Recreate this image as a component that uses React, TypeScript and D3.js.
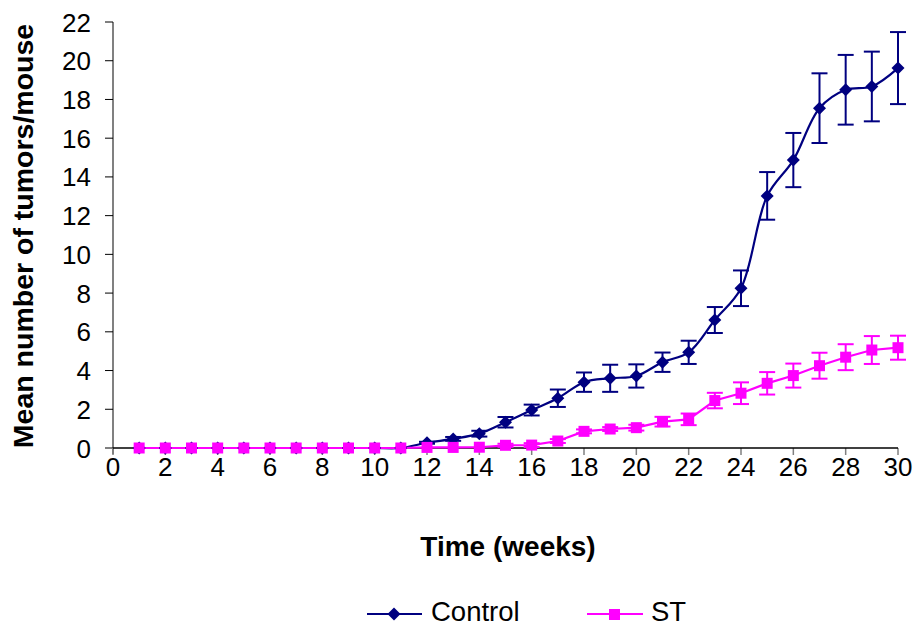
import React from "react";
import * as d3 from "d3";

const weeks = d3.range(1, 31);
const controlMean = [0, 0, 0, 0, 0, 0, 0, 0, 0, 0, 0, 0.27, 0.47, 0.74, 1.33, 1.96, 2.57, 3.4, 3.6, 3.72, 4.43, 4.94, 6.61, 8.25, 13.02, 14.87, 17.55, 18.5, 18.67, 19.62];
const controlErr = [0, 0, 0, 0, 0, 0, 0, 0, 0, 0, 0, 0.05, 0.1, 0.15, 0.27, 0.28, 0.45, 0.5, 0.7, 0.6, 0.5, 0.6, 0.67, 0.92, 1.23, 1.4, 1.8, 1.8, 1.8, 1.86];
const stMean = [0, 0, 0, 0, 0, 0, 0, 0, 0, 0, 0, 0.03, 0.03, 0.04, 0.14, 0.15, 0.36, 0.86, 0.98, 1.05, 1.36, 1.48, 2.45, 2.83, 3.34, 3.74, 4.25, 4.69, 5.06, 5.18];
const stErr = [0, 0, 0, 0, 0, 0, 0, 0, 0, 0, 0, 0.02, 0.02, 0.03, 0.08, 0.1, 0.1, 0.1, 0.1, 0.15, 0.25, 0.3, 0.4, 0.56, 0.58, 0.62, 0.67, 0.67, 0.72, 0.62];
const xTicks = d3.range(0, 31, 2);
const yTicks = d3.range(0, 23, 2);
const seriesNames = ["Control", "ST"];

const NAVY = "#000080";
const MAGENTA = "#FF00FF";

export default function App() {
  const W = 917, H = 627;
  const x = d3.scaleLinear().domain([0, 30]).range([113, 898]);
  const y = d3.scaleLinear().domain([0, 22]).range([448, 22]);
  const font = "Liberation Sans, Arial, sans-serif";

  const ctrlLine = d3.line<number>().x((_, i) => x(weeks[i])).y((d) => y(d)).curve(d3.curveCatmullRom.alpha(0.5));
  const stLine = d3.line<number>().x((_, i) => x(weeks[i])).y((d) => y(d));

  const errBars = (mean: number[], err: number[], color: string) =>
    mean.map((m, i) =>
      err[i] > 0.04 ? (
        <g key={i} stroke={color} strokeWidth={2}>
          <line x1={x(weeks[i])} x2={x(weeks[i])} y1={y(m - err[i])} y2={y(m + err[i])} />
          <line x1={x(weeks[i]) - 8} x2={x(weeks[i]) + 8} y1={y(m + err[i])} y2={y(m + err[i])} />
          <line x1={x(weeks[i]) - 8} x2={x(weeks[i]) + 8} y1={y(m - err[i])} y2={y(m - err[i])} />
        </g>
      ) : null
    );

  const diamond = (cx: number, cy: number, r = 6.5) => `M${cx},${cy - r}L${cx + r},${cy}L${cx},${cy + r}L${cx - r},${cy}Z`;

  return (
    <svg width={W} height={H} style={{ position: "absolute", left: 0, top: 0 }} fontFamily={font}>
      <rect width={W} height={H} fill="#fff" />
      {/* y axis */}
      <line x1={113} x2={113} y1={y(22)} y2={y(0) + 6} stroke="#808080" strokeWidth={2} />
      {yTicks.map((t) => (
        <g key={t}>
          <line x1={105} x2={113} y1={y(t)} y2={y(t)} stroke="#000" strokeWidth={1} />
          <text x={91} y={y(t) + 9.5} textAnchor="end" fontSize={26}>{t}</text>
        </g>
      ))}
      {/* x axis */}
      {xTicks.map((t) => (
        <g key={t}>
          <line x1={x(t)} x2={x(t)} y1={448} y2={455} stroke="#808080" strokeWidth={1.5} />
          <text x={x(t)} y={476} textAnchor="middle" fontSize={26}>{t}</text>
        </g>
      ))}
      <line x1={113} x2={898} y1={448} y2={448} stroke="#000" strokeWidth={1.5} />

      {/* error bars */}
      {errBars(controlMean, controlErr, NAVY)}
      {errBars(stMean, stErr, MAGENTA)}

      {/* lines */}
      <path d={ctrlLine(controlMean) || ""} fill="none" stroke={NAVY} strokeWidth={2.2} />
      <path d={stLine(stMean) || ""} fill="none" stroke={MAGENTA} strokeWidth={2.2} />

      {/* markers */}
      {controlMean.map((m, i) => (
        <path key={i} d={diamond(x(weeks[i]), y(m))} fill={NAVY} />
      ))}
      {stMean.map((m, i) => (
        <rect key={i} x={x(weeks[i]) - 5.5} y={y(m) - 5.5} width={11} height={11} fill={MAGENTA} />
      ))}

      {/* titles */}
      <text x={508} y={556} textAnchor="middle" fontSize={28} fontWeight="bold">Time (weeks)</text>
      <text transform={`translate(33,236) rotate(-90)`} textAnchor="middle" fontSize={28.5} fontWeight="bold">Mean number of tumors/mouse</text>

      {/* legend */}
      <g>
        <line x1={367} x2={422} y1={614} y2={614} stroke={NAVY} strokeWidth={2} />
        <path d={diamond(394, 614, 6.5)} fill={NAVY} />
        <text x={431} y={621} fontSize={27.5}>{seriesNames[0]}</text>
        <line x1={587} x2={643} y1={614} y2={614} stroke={MAGENTA} strokeWidth={2} />
        <rect x={609} y={609} width={11} height={11} fill={MAGENTA} />
        <text x={651} y={621} fontSize={27.5}>{seriesNames[1]}</text>
      </g>
    </svg>
  );
}
